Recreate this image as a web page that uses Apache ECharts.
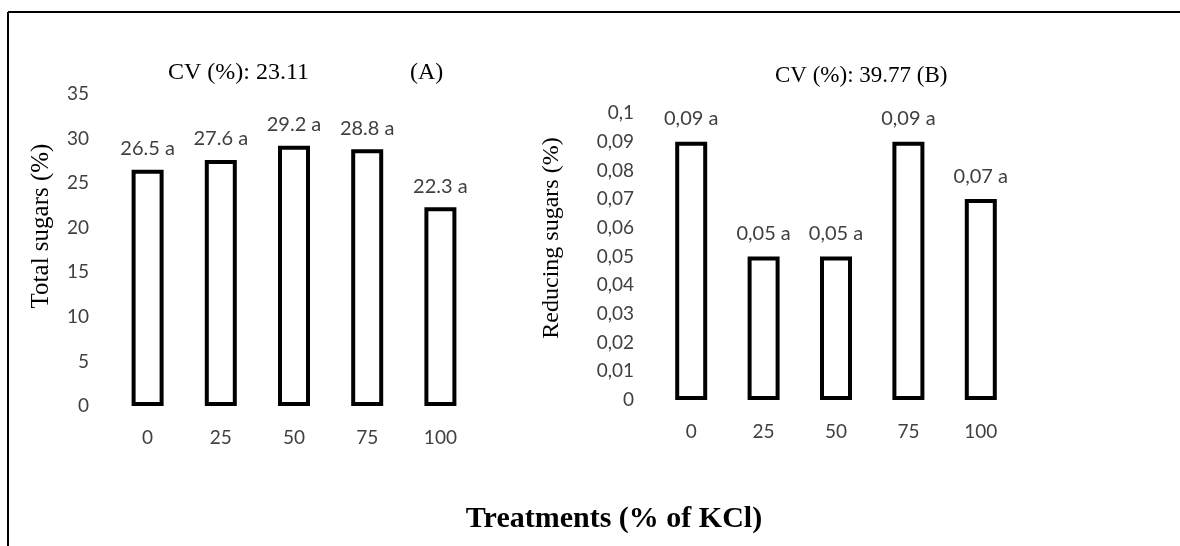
<!DOCTYPE html>
<html>
<head>
<meta charset="utf-8">
<script src="https://cdn.jsdelivr.net/npm/echarts@6/dist/echarts.min.js"></script>
<style>
html,body{margin:0;padding:0;background:#fff;}
#chart{width:1180px;height:546px;}
</style>
</head>
<body>
<div id="chart"></div>
<script>
const treatments = ['0', '25', '50', '75', '100'];
const totalSugars = [26.5, 27.6, 29.2, 28.8, 22.3];
const totalLetters = ['a', 'a', 'a', 'a', 'a'];
const reducingSugars = [0.09, 0.05, 0.05, 0.09, 0.07];
const reducingLetters = ['a', 'a', 'a', 'a', 'a'];
const cvA = '23.11';
const cvB = '39.77';
const yNameA = 'Total sugars (%)';
const yNameB = 'Reducing sugars (%)';
const xName = 'Treatments (% of KCl)';

const chart = echarts.init(document.getElementById('chart'), null, {renderer: 'canvas'});
const tickFont = {fontFamily: 'Lato', fontSize: 19, color: '#404040'};
const commaFmt = v => String(Math.round(v * 100) / 100).replace('.', ',');
const serif = 'Liberation Serif';

const barStyle = {color: '#ffffff', borderColor: '#000000', borderWidth: 4};

chart.setOption({
  animation: false,
  backgroundColor: '#ffffff',
  title: [
    {text: 'CV (%): ' + cvA, left: 163, top: 56,
     textStyle: {fontFamily: serif, fontSize: 24, fontWeight: 'normal', color: '#000'}},
    {text: '(A)', left: 405, top: 56,
     textStyle: {fontFamily: serif, fontSize: 24, fontWeight: 'normal', color: '#000'}},
    {text: 'CV (%): ' + cvB + ' (B)', left: 770, top: 59,
     textStyle: {fontFamily: serif, fontSize: 23, fontWeight: 'normal', color: '#000'}}
  ],
  grid: [
    {left: 111, top: 94, width: 366, height: 312},
    {left: 655, top: 113, width: 362, height: 287}
  ],
  xAxis: [
    {type: 'category', gridIndex: 0, data: treatments,
     axisLine: {show: false}, axisTick: {show: false},
     axisLabel: Object.assign({margin: 22}, tickFont)},
    {type: 'category', gridIndex: 1, data: treatments,
     axisLine: {show: false}, axisTick: {show: false},
     axisLabel: Object.assign({margin: 22}, tickFont)}
  ],
  yAxis: [
    {type: 'value', gridIndex: 0, min: 0, max: 35, interval: 5,
     splitLine: {show: false}, axisLine: {show: false}, axisTick: {show: false},
     axisLabel: Object.assign({margin: 22}, tickFont)},
    {type: 'value', gridIndex: 1, min: 0, max: 0.1, interval: 0.01,
     splitLine: {show: false}, axisLine: {show: false}, axisTick: {show: false},
     axisLabel: Object.assign({margin: 21, formatter: commaFmt}, tickFont)}
  ],
  series: [
    {type: 'bar', xAxisIndex: 0, yAxisIndex: 0, data: totalSugars, barWidth: 32,
     itemStyle: barStyle,
     label: {show: true, position: 'top', distance: 11, fontFamily: 'Lato', fontSize: 20, color: '#404040',
       formatter: p => p.value + ' ' + totalLetters[p.dataIndex]}},
    {type: 'bar', xAxisIndex: 1, yAxisIndex: 1, data: reducingSugars, barWidth: 32,
     itemStyle: barStyle,
     label: {show: true, position: 'top', distance: 13, fontFamily: 'Lato', fontSize: 20, color: '#404040',
       formatter: p => commaFmt(p.value) + ' ' + reducingLetters[p.dataIndex]}}
  ],
  graphic: [
    {type: 'line', shape: {x1: 8, y1: 12, x2: 1180, y2: 12}, style: {stroke: '#000', lineWidth: 2}},
    {type: 'line', shape: {x1: 8, y1: 12, x2: 8, y2: 546}, style: {stroke: '#000', lineWidth: 2}},
    {type: 'text', x: 41, y: 226, rotation: Math.PI / 2,
     style: {text: yNameA, fontFamily: serif, fontSize: 25, fill: '#000', align: 'center', verticalAlign: 'middle'}},
    {type: 'text', x: 552, y: 238, rotation: Math.PI / 2,
     style: {text: yNameB, fontFamily: serif, fontSize: 24, fill: '#000', align: 'center', verticalAlign: 'middle'}},
    {type: 'text', x: 614, y: 519,
     style: {text: xName, fontFamily: serif, fontSize: 30, fontWeight: 'bold', fill: '#000', align: 'center', verticalAlign: 'middle'}}
  ]
});
</script>
</body>
</html>
